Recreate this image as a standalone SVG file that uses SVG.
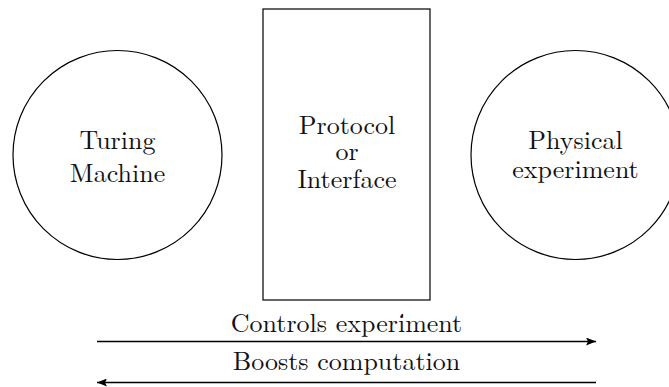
<svg xmlns="http://www.w3.org/2000/svg" width="669" height="387" viewBox="0 0 669 387">
<style>
.shape{fill:#fff;stroke:#000;stroke-width:1.2}
.lbl{font-family:'Latin Modern Roman','Liberation Serif','DejaVu Serif',serif;font-size:26px;fill:#111;text-anchor:middle}
.conn{stroke:#000;stroke-width:1.4;fill:none}
</style>
<defs>
<marker id="ah" viewBox="0 0 10 8" refX="10" refY="4" markerWidth="10" markerHeight="8" markerUnits="userSpaceOnUse" orient="auto">
<path d="M0,0 L10,4 L0,8 L2,4 Z" fill="#000"/>
</marker>
</defs>
<rect width="669" height="387" fill="#fff"/>
<g id="turing">
<circle class="shape" cx="117.5" cy="155" r="104.5"/>
<text class="lbl" x="117.5" y="149">Turing</text>
<text class="lbl" x="117.5" y="182">Machine</text>
</g>
<g id="protocol">
<rect class="shape" x="263" y="9" width="167" height="291"/>
<text class="lbl" x="347" y="134">Protocol</text>
<text class="lbl" x="347" y="160">or</text>
<text class="lbl" x="347" y="188">Interface</text>
</g>
<g id="physical">
<circle class="shape" cx="575.5" cy="155" r="104.5"/>
<text class="lbl" x="575.5" y="149">Physical</text>
<text class="lbl" x="575.5" y="178">experiment</text>
</g>
<g id="connectors">
<line class="conn" x1="97" y1="341.5" x2="596" y2="341.5" marker-end="url(#ah)"/>
<text class="lbl" x="346.5" y="332">Controls experiment</text>
<line class="conn" x1="596" y1="382.5" x2="97" y2="382.5" marker-end="url(#ah)"/>
<text class="lbl" x="346.5" y="370">Boosts computation</text>
</g>
<circle cx="402.3" cy="315" r="1" fill="#000"/>
</svg>
